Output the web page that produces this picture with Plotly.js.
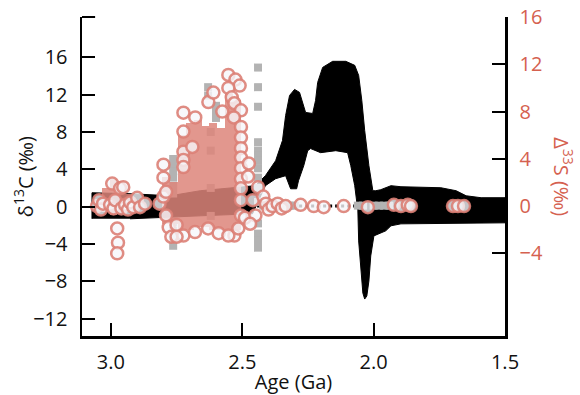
<!DOCTYPE html>
<html><head><meta charset="utf-8">
<script src="https://cdn.plot.ly/plotly-3.0.1.min.js"></script>
<style>html,body{margin:0;padding:0;background:#fff}#chart{width:580px;height:395px}</style>
</head><body><div id="chart"></div>
<script>
// δ13C envelope of the carbon-isotope curve (outline, age in Ga, δ13C in ‰)
const bandAge = [3.072,3.072,2.927,2.774,2.660,2.526,2.450,2.412,2.373,2.347,2.335,2.320,2.301,2.282,2.266,2.259,2.232,2.221,2.213,2.194,2.156,2.106,2.072,2.057,2.045,2.034,2.018,2.003,1.992,1.973,1.934,1.896,1.744,1.686,1.648,1.591,1.5,
  1.5,1.896,1.934,1.954,1.999,2.011,2.018,2.026,2.034,2.041,2.049,2.057,2.060,2.072,2.087,2.099,2.144,2.202,2.240,2.251,2.266,2.286,2.293,2.316,2.335,2.373,2.412,2.438,2.461,2.660,2.774,2.927];
const bandD13C = [-1.31,1.48,1.38,1.16,1.70,2.02,2.24,3.31,4.92,7.08,9.76,11.91,12.56,12.24,10.84,10.09,9.98,11.38,13.31,14.92,15.57,15.57,15.14,14.06,11.38,8.15,4.39,1.70,1.70,1.81,2.24,2.13,2.02,1.70,1.16,0.95,0.95,
  -1.74,-1.85,-2.06,-2.60,-3.14,-5.29,-7.98,-9.59,-9.91,-9.27,-6.90,-3.68,-0.45,2.24,4.39,5.78,5.99,5.78,6.22,5.99,4.39,2.77,1.91,1.91,3.31,2.99,2.24,0.62,-0.77,-0.99,-1.10,-1.31];

// carbonate δ13C data (gray squares)
const grayAge = [2.44,2.44,2.44,2.44,2.44,2.44,2.44,2.44,2.44,2.44,2.44,2.44,2.44,2.44,2.44,
  2.63,2.63,2.60,2.60,2.60,2.62,2.62,2.62,2.62,
  2.763,2.763,2.763,2.763,2.763,2.763,2.763,2.763,2.763,2.763,
  2.42,2.40,2.38,2.36,2.34,2.32,2.30,2.06,2.04,2.00,1.98,1.96,1.94];
const grayD13C = [14.9,12.8,10.7,6.9,6.0,5.5,4.9,4.1,3.1,2.0,0.5,-1.8,-2.9,-3.6,-4.4,
  12.8,11.9,10.8,10.1,9.5,8.0,6.0,2.0,-1.0,
  5.1,4.5,3.8,3.1,2.2,1.4,-1.7,-2.6,-3.4,-4.2,
  0.1,0.1,0.1,0.1,0.1,0.1,0.1,0.1,0.1,0.1,0.1,0.1,0.1];

// Δ33S ranges (dense intervals)
const rangeAge  = [3.02,2.99,2.96,2.93,2.790,2.760,2.730,2.700,2.670,2.640,2.610,2.580,2.550,2.520];
const rangeLow  = [-0.5,-0.8,-0.6,-0.5,-1.5,-1.5,-2.0,-2.0,-1.8,-1.8,-2.0,-2.0,-2.2,-2.0];
const rangeHigh = [1.5,2.3,2.0,1.0,2.5,2.0,6.0,7.0,7.3,6.8,7.0,6.6,9.5,9.0];

// Δ33S measurements (circles)
const sAge = [3.053,3.045,3.038,3.030,3.003,2.995,2.990,2.984,2.976,2.973,2.976,2.965,2.960,2.953,2.946,2.935,2.927,2.915,2.900,2.889,2.870,2.815,2.800,
  2.800,2.800,2.790,2.790,2.780,2.770,2.750,
  2.724,2.724,2.724,2.724,2.724,2.690,2.679,2.629,2.610,2.576,
  2.553,2.526,2.510,2.553,2.540,2.530,2.505,2.532,2.505,2.505,2.505,2.505,2.505,2.505,2.505,2.505,2.505,2.530,
  2.724,2.680,2.630,2.590,2.553,2.515,2.490,2.750,
  2.475,2.478,2.440,2.460,2.450,2.470,2.420,2.410,2.400,2.385,2.365,2.350,2.335,
  2.278,2.228,2.190,2.114,2.022,1.923,1.896,1.870,1.858,1.698,1.679,1.656];
const sD33S = [0.0,0.5,-0.3,0.2,0.1,1.9,-0.2,0.5,-1.9,-3.1,-4.0,1.5,-0.2,1.6,0.1,-0.3,0.3,-0.1,0.7,-0.1,0.2,0.2,0.8,
  3.5,2.4,1.2,-0.8,-1.8,-2.6,-1.6,
  7.9,6.3,4.6,3.9,3.3,5.0,7.5,8.8,9.6,8.0,
  11.1,10.7,10.2,10.0,9.2,8.7,8.1,7.5,6.7,5.8,4.9,4.1,3.2,2.3,1.5,0.5,-0.8,-2.5,
  -2.5,-2.2,-1.9,-2.3,-2.5,-1.9,-1.0,-2.6,
  3.6,2.5,1.6,0.5,-0.8,-1.5,0.8,0.2,-0.3,0.0,0.2,-0.2,0.0,
  0.1,0.0,-0.1,0.0,-0.1,0.1,0.0,0.1,0.0,0.0,0.0,0.0];

const xTicks = [3.0,2.5,2.0,1.5];
const xTickText = ['3.0','2.5','2.0','1.5'];
const cTicks = [-12,-8,-4,0,4,8,12,16];
const cTickText = ['−12','−8','−4','0','4','8','12','16'];
const sTicks = [-4,0,4,8,12,16];
const sTickText = ['−4','0','4','8','12','16'];

const SALMON = '#d5614f';
const FONT = 'Open Sans, Noto Sans, sans-serif';

const traces = [
  {type:'scatter', mode:'lines', x:bandAge, y:bandD13C, fill:'toself', fillcolor:'#000',
   line:{color:'#000', width:1}, yaxis:'y', hoverinfo:'skip'},
  {type:'scatter', mode:'markers', x:grayAge, y:grayD13C, yaxis:'y',
   marker:{symbol:'square', size:8, color:'#b3b3b3', line:{width:0}}},
  {type:'bar', x:rangeAge, base:rangeLow, y:rangeHigh.map((h,i)=>h-rangeLow[i]), yaxis:'y2',
   width:0.03, marker:{color:'rgba(221,133,122,0.85)', line:{width:0}}},
  {type:'scatter', mode:'markers', x:sAge, y:sD33S, yaxis:'y2',
   marker:{symbol:'circle', size:12, color:'rgba(246,246,250,0.8)',
           line:{color:'rgba(219,128,117,0.9)', width:2.5}}}
];

const axisCommon = {ticks:'inside', ticklen:13, tickwidth:2, tickcolor:'#000', showline:true,
  linewidth:2.5, linecolor:'#000', showgrid:false, zeroline:false, fixedrange:true};

const layout = {
  width:580, height:395, margin:{l:82, r:75, t:17, b:59},
  paper_bgcolor:'#fff', plot_bgcolor:'#fff', showlegend:false,
  font:{family:FONT, size:20, color:'#111'},
  bargap:0,
  xaxis:Object.assign({}, axisCommon, {range:[3.11,1.5], tickmode:'array', tickvals:xTicks, ticktext:xTickText,
    ticklabelstandoff:6, title:{text:'Age (Ga)', standoff:12, font:{size:20}}}),
  yaxis:Object.assign({}, axisCommon, {range:[-13.87,20.32], tickmode:'array', tickvals:cTicks, ticktext:cTickText,
    ticklabelstandoff:8}),
  yaxis2:Object.assign({}, axisCommon, {overlaying:'y', side:'right', range:[-11,16], tickmode:'array',
    tickvals:sTicks, ticktext:sTickText, tickfont:{color:SALMON, size:20}, ticklabelstandoff:8}),
  shapes:[
    {type:'line', xref:'x', yref:'y2', x0:3.06, x1:1.65, y0:0, y1:0, layer:'below',
     line:{color:'#000', width:3, dash:'dot'}},
    {type:'line', xref:'paper', yref:'paper', x0:0, x1:0.031, y0:1, y1:1, line:{color:'#000', width:2}}
  ],
  annotations:[
    {text:'δ<sup>13</sup>C (‰)', xref:'paper', yref:'paper', x:-0.138, y:0.5,
     xanchor:'center', yanchor:'middle', textangle:-90, showarrow:false, font:{color:'#111', size:20, family:FONT}},
    {text:'Δ<sup>33</sup>S (‰)', xref:'paper', yref:'paper', x:1.138, y:0.5,
     xanchor:'center', yanchor:'middle', textangle:90, showarrow:false, font:{color:SALMON, size:20, family:FONT}}
  ]
};

Plotly.newPlot('chart', traces, layout, {displayModeBar:false, staticPlot:true});
</script></body></html>
